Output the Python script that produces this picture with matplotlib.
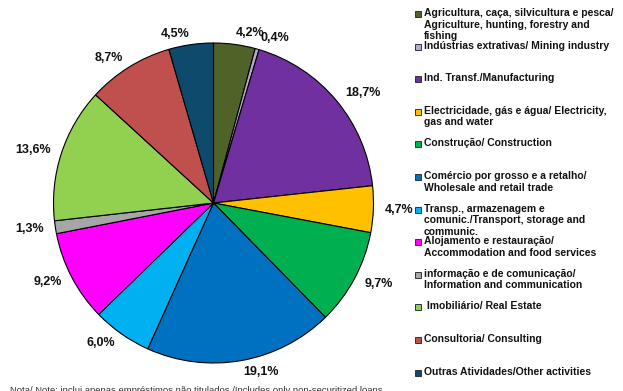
import matplotlib
matplotlib.use("Agg")
import matplotlib.pyplot as plt

plt.rcParams['font.family'] = ['Liberation Sans', 'DejaVu Sans']

# sector shares (%), clockwise from 12 o'clock
values = [4.2, 0.4, 18.7, 4.7, 9.7, 19.1, 6.0, 9.2, 1.3, 13.6, 8.7, 4.5]
colors = ['#4F6228', '#B7A8CC', '#7030A0', '#FFC000', '#00B050', '#0070C0',
          '#00B0F0', '#FF00FF', '#A6A6A6', '#92D050', '#C0504D', '#0E4A6C']
legend_labels = [
    "Agricultura, caça, silvicultura e pesca/\nAgriculture, hunting, forestry and\nfishing",
    "Indústrias extrativas/ Mining industry",
    "Ind. Transf./Manufacturing",
    "Electricidade, gás e água/ Electricity,\ngas and water",
    "Construção/ Construction",
    "Comércio por grosso e a retalho/\nWholesale and retail trade",
    "Transp., armazenagem e\ncomunic./Transport, storage and\ncommunic.",
    "Alojamento e restauração/\nAccommodation and food services",
    "informação e de comunicação/\nInformation and communication",
    " Imobiliário/ Real Estate",
    "Consultoria/ Consulting",
    "Outras Atividades/Other activities",
]
note = "Nota/ Note: inclui apenas empréstimos não titulados /Includes only non-securitized loans"

pct_labels = [f"{v:.1f}".replace('.', ',') + '%' for v in values]

W, H = 623, 391
fig = plt.figure(figsize=(W / 100, H / 100), dpi=100)

ax = fig.add_axes([53.5 / W, 28 / H, 320 / W, 320 / H])
wedges, texts = ax.pie(values, colors=colors, labels=pct_labels, startangle=90,
                       counterclock=False, labeldistance=1.07,
                       wedgeprops=dict(edgecolor='black', linewidth=0.8),
                       textprops=dict(fontsize=9, fontweight='bold', color='#111111'))
ax.set_xlim(-1, 1)
ax.set_ylim(-1, 1)

# legend drawn on a pixel-space overlay
lax = fig.add_axes([0, 0, 1, 1])
lax.set_xlim(0, W)
lax.set_ylim(H, 0)
lax.axis('off')
for i, (lab, c) in enumerate(zip(legend_labels, colors)):
    y = 14 + i * 32.6
    lax.plot(418, y, 's', ms=4.3, mfc=c, mec='#333333', mew=0.7)
    lax.text(424, y - 6, lab, fontsize=7.5, fontweight='bold', color='#111111',
             va='top', ha='left', linespacing=1.2)

fig.text(10 / W, 1 - 386 / H, note, fontsize=6.8, color='#333333', va='top', ha='left')

fig.savefig("out.png", dpi=100)
